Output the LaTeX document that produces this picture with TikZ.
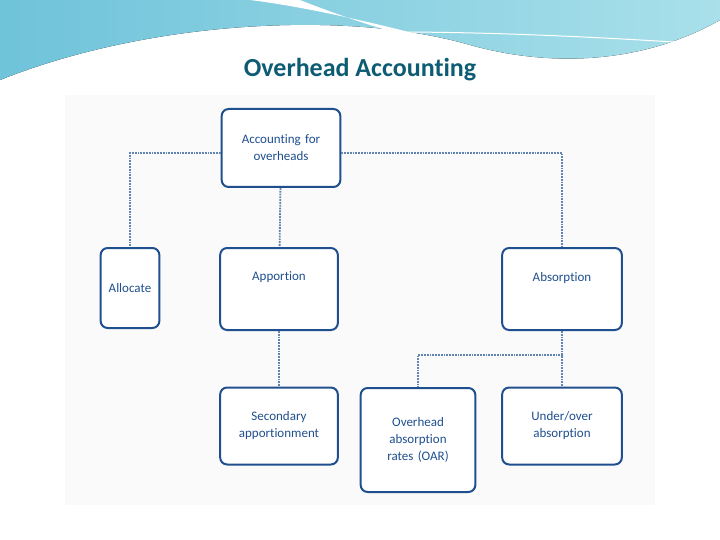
\documentclass[tikz,border=0pt]{standalone}
\usepackage{fontspec}
\setmainfont[Ligatures=NoCommon]{Carlito}
\usetikzlibrary{positioning}
\definecolor{boxblue}{HTML}{1F4F8F}
\definecolor{titleteal}{HTML}{0D5C74}
\definecolor{waveA}{HTML}{6FC3DA}
\definecolor{waveB}{HTML}{A9E0EA}
\begin{document}
\begin{tikzpicture}[x=1pt,y=-1pt]
	\tikzstyle{main}=[rectangle, rounded corners=7pt, line width=2pt, draw=boxblue, fill=white, align=center, font=\fontsize{13}{17}\selectfont\color{boxblue}, text width=25mm]
	\tikzstyle{connect}=[densely dotted, line width=1.8pt, draw=boxblue!70]
	\useasboundingbox (0,0) rectangle (720,540);
	% header wave
	\fill[left color=waveA, right color=waveB] (0,0) -- (720,0) -- (720,20) .. controls (650,60) and (560,70) .. (470,45) .. controls (350,10) and (150,20) .. (0,80) -- cycle;
	\fill[white] (250,0) .. controls (330,10) and (420,35) .. (520,60) .. controls (440,50) and (350,20) .. (300,0) -- cycle;
	\draw[white, line width=1pt] (0,85) .. controls (150,30) and (350,20) .. (720,45);
	\fill[black!2] (65,95) rectangle (655,505);
	\node[font=\bfseries\fontsize{26}{30}\selectfont, text=titleteal] (title) at (360,70) {Overhead Accounting};
	% boxes
	\node[main, minimum height=78pt, text width=112pt] (acc) at (281,148) {Accounting for\\overheads};
	\node[main, minimum height=80pt, text width=52pt] (alloc) at (130,288) {Allocate};
	\node[main, minimum height=82pt, text width=111pt] (app) at (279,289) {Apportion\\[8pt]\mbox{}};
	\node[main, minimum height=82pt, text width=113pt] (abs) at (562,289) {Absorption\\[8pt]\mbox{}};
	\node[main, minimum height=77pt, text width=111pt] (sec) at (279,426) {Secondary\\apportionment};
	\node[main, minimum height=104pt, text width=108pt] (oar) at (418,440) {Overhead\\absorption\\rates (OAR)};
	\node[main, minimum height=77pt, text width=113pt] (under) at (562,426) {Under/over\\absorption};
	\coordinate (branch) at (563,355);
	\draw[connect] (acc.west |- 0,153) -| (alloc.north);
	\draw[connect] (acc.east |- 0,153) -| (abs.north);
	\draw[connect] (acc) -- (app);
	\draw[connect] (app) -- (sec);
	\draw[connect] (abs) -- (under);
	\draw[connect] (branch) -| (oar.north);
\end{tikzpicture}
\end{document}
